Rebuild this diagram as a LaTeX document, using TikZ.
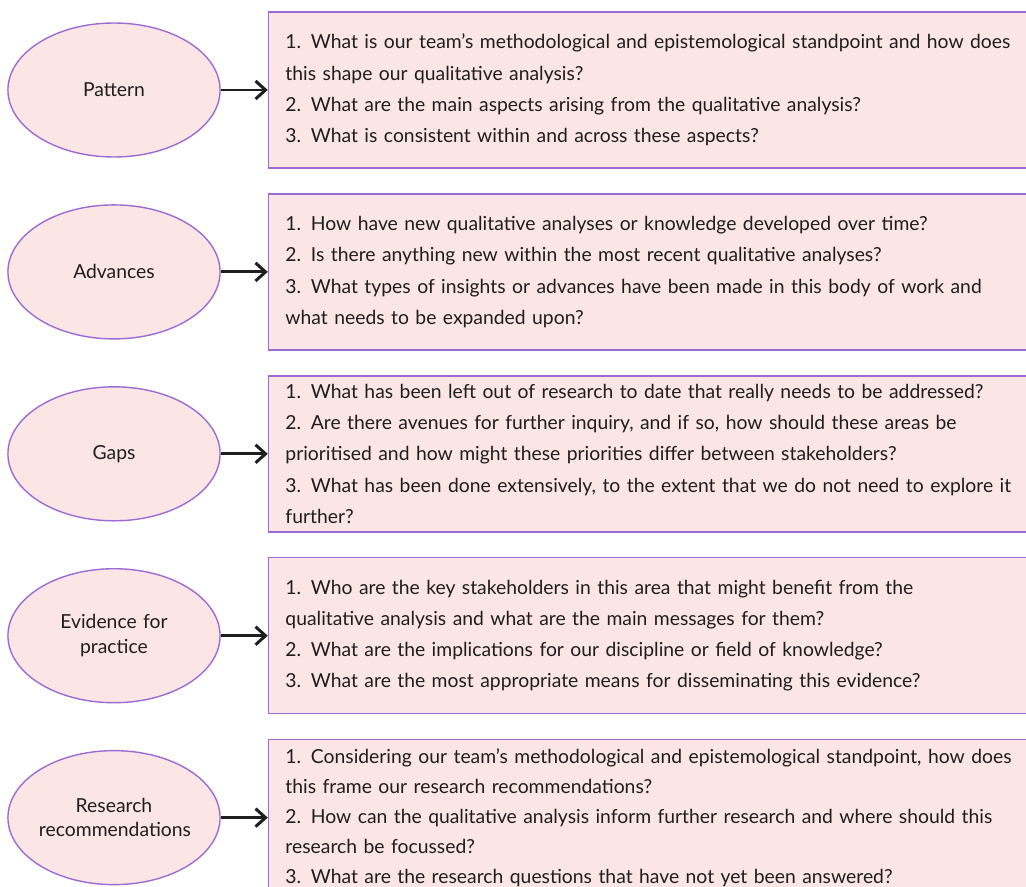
\documentclass[tikz,border=0pt]{standalone}
\usepackage{fontspec}
\setmainfont{Lato}
\usepackage{tikz}
\usetikzlibrary{shapes,arrows.meta,positioning}

\definecolor{pinkfill}{RGB}{252,229,229}
\definecolor{lilac}{RGB}{156,108,212}
\definecolor{ink}{RGB}{30,30,30}

\begin{document}
\begin{tikzpicture}[
    theme/.style={ellipse, draw=lilac, fill=pinkfill, line width=0.8pt, minimum width=4.16cm, minimum height=2.68cm, inner sep=0pt, text width=3cm, align=center, text=ink, font=\fontsize{11}{14}\selectfont},
    qbox/.style={rectangle, draw=lilac, fill=pinkfill, line width=0.8pt, minimum height=3.12cm, inner xsep=0.34cm, text width=14.76cm, align=left, text=ink, font=\fontsize{11}{17.8}\selectfont},
    arrow/.style={-{Straight Barb[length=2mm,width=3.6mm]}, line width=1.7pt, ink}
]

% frame of the page, boxes run off the right edge
\path[use as bounding box] (0,0) rectangle (20.52,-17.72);
\clip (0,0) rectangle (20.52,-17.72);

% Themes on the left
\node[theme] (pattern) at (2.28,-1.8) {Pattern};
\node[theme, below=0.93cm of pattern] (advances) {Advances};
\node[theme, below=0.93cm of advances] (gaps) {Gaps};
\node[theme, below=0.93cm of gaps] (evidence) {Evidence for\\practice};
\node[theme, below=0.93cm of evidence] (research) {Research\\recommendations};

% Question boxes
\node[qbox, right=0.94cm of pattern] (patternq) {1. What is our team's methodological and epistemological standpoint and how does\\this shape our qualitative analysis?\\2. What are the main aspects arising from the qualitative analysis?\\3. What is consistent within and across these aspects?};
\node[qbox, right=0.94cm of advances] (advancesq) {1. How have new qualitative analyses or knowledge developed over time?\\2. Is there anything new within the most recent qualitative analyses?\\3. What types of insights or advances have been made in this body of work and\\what needs to be expanded upon?};
\node[qbox, right=0.94cm of gaps] (gapsq) {1. What has been left out of research to date that really needs to be addressed?\\2. Are there avenues for further inquiry, and if so, how should these areas be\\prioritised and how might these priorities differ between stakeholders?\\3. What has been done extensively, to the extent that we do not need to explore it\\further?};
\node[qbox, right=0.94cm of evidence] (evidenceq) {1. Who are the key stakeholders in this area that might benefit from the\\qualitative analysis and what are the main messages for them?\\2. What are the implications for our discipline or field of knowledge?\\3. What are the most appropriate means for disseminating this evidence?};
\node[qbox, right=0.94cm of research, font=\fontsize{11}{17}\selectfont] (researchq) {1. Considering our team's methodological and epistemological standpoint, how does\\this frame our research recommendations?\\2. How can the qualitative analysis inform further research and where should this\\research be focussed?\\3. What are the research questions that have not yet been answered?};

\draw[arrow] (pattern) -- (patternq);
\draw[arrow] (advances) -- (advancesq);
\draw[arrow] (gaps) -- (gapsq);
\draw[arrow] (evidence) -- (evidenceq);
\draw[arrow] (research) -- (researchq);

\end{tikzpicture}
\end{document}
